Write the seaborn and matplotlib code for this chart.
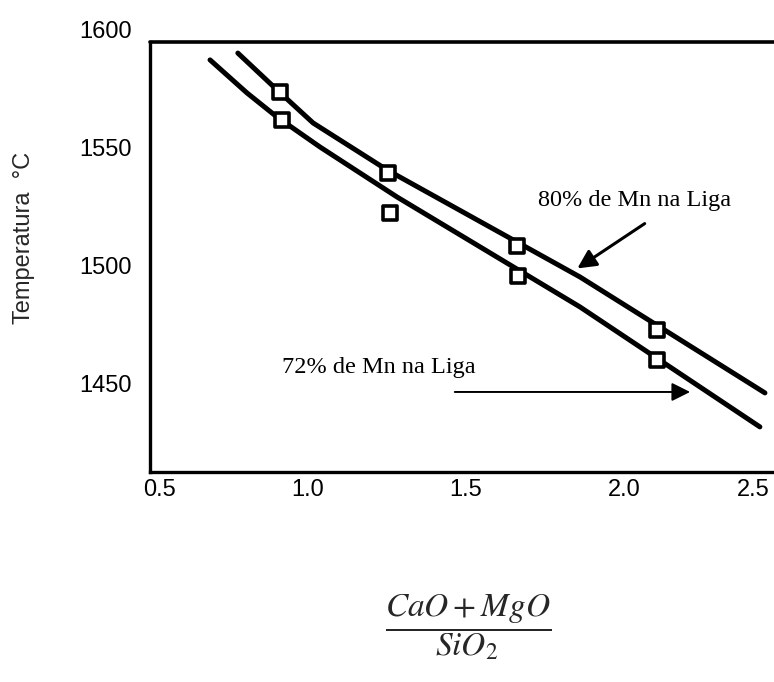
import matplotlib
matplotlib.use("Agg")
import matplotlib.pyplot as plt
from matplotlib.transforms import ScaledTranslation
import seaborn as sns
import pandas as pd

# ---- data ----
line80_x = [0.778, 0.902, 1.016, 1.250, 1.861, 2.446]
line80_y = [1589.8, 1574.2, 1560.2, 1540.3, 1494.9, 1445.8]
line72_x = [0.690, 0.807, 0.902, 1.038, 1.282, 1.861, 2.430]
line72_y = [1586.9, 1572.9, 1562.7, 1550.0, 1528.8, 1482.2, 1431.4]
pts80_x = [0.911, 1.253, 1.661, 2.104]
pts80_y = [1573.3, 1539.0, 1508.1, 1472.5]
pts72_x = [0.918, 1.259, 1.665, 2.104]
pts72_y = [1561.4, 1522.0, 1495.3, 1459.7]
xticks = [0.5, 1.0, 1.5, 2.0, 2.5]
xticklabels = ["0.5", "1.0", "1.5", "2.0", "2.5"]
yticks = [1450, 1500, 1550, 1600]
yticklabels = ["1450", "1500", "1550", "1600"]
label80 = "80% de Mn na Liga"
label72 = "72% de Mn na Liga"
ylabel = "Temperatura  °C"
xlabel = r"$\dfrac{CaO + MgO}{SiO_2}$"

sns.set_theme(style="white")
plt.rcParams["font.family"] = ["Liberation Sans", "DejaVu Sans"]
plt.rcParams["mathtext.fontset"] = "stix"

W, H = 774, 682
fig = plt.figure(figsize=(W / 100, H / 100), dpi=100)
ax = fig.add_axes([150 / W, 1 - 472 / H, 650 / W, 443 / H])

ymin = 1600 - (472 - 29) * 50 / 118
ytop_line = 1600 - (42 - 29) * 50 / 118
ax.set_xlim(0.5, 0.5 + 650 / 316)
ax.set_ylim(ymin, 1600)

df80 = pd.DataFrame({"x": line80_x, "y": line80_y})
df72 = pd.DataFrame({"x": line72_x, "y": line72_y})
sns.lineplot(data=df80, x="x", y="y", sort=False, color="black", lw=3.6, ax=ax)
sns.lineplot(data=df72, x="x", y="y", sort=False, color="black", lw=3.6, ax=ax)

p80 = pd.DataFrame({"x": pts80_x, "y": pts80_y})
p72 = pd.DataFrame({"x": pts72_x, "y": pts72_y})
for p in (p80, p72):
    sns.scatterplot(data=p, x="x", y="y", marker="s", s=110, facecolor="white",
                    edgecolor="black", linewidth=2.6, zorder=5, ax=ax)

# frame
for s in ("top", "right"):
    ax.spines[s].set_visible(False)
for s in ("left", "bottom"):
    ax.spines[s].set_color("black")
    ax.spines[s].set_linewidth(2.4)
ax.spines["left"].set_bounds(ymin, ytop_line)
ax.axhline(ytop_line, color="black", lw=2.6, zorder=6, clip_on=False)

ax.set_xticks(xticks)
ax.set_xticklabels(xticklabels, fontsize=17)
ax.set_yticks(yticks)
ax.set_yticklabels(yticklabels, fontsize=17)
ax.tick_params(axis="x", direction="in", length=8, width=1.6, pad=5, colors="black")
ax.tick_params(axis="y", length=0, pad=13, colors="black")
labs = ax.get_xticklabels()
labs[0].set_transform(labs[0].get_transform() + ScaledTranslation(0.10, 0, fig.dpi_scale_trans))
labs[-1].set_transform(labs[-1].get_transform() + ScaledTranslation(-0.29, 0, fig.dpi_scale_trans))
ax.set_xlabel("")
ax.set_ylabel("")

# annotations
ax.text(2.032, 1527.5, label80, fontsize=17.5, family=["Liberation Serif"],
        ha="center", va="center", color="black")
ax.text(1.2247, 1456.4, label72, fontsize=17.5, family=["Liberation Serif"],
        ha="center", va="center", color="black")
ax.annotate("", xy=(1.845, 1497.9), xytext=(2.0728, 1518.2),
            arrowprops=dict(arrowstyle="-|>", color="black", lw=2.2, mutation_scale=28))
ax.annotate("", xy=(2.218, 1446.2), xytext=(1.4557, 1446.2),
            arrowprops=dict(arrowstyle="-|>", color="black", lw=1.4, mutation_scale=28))

fig.text(24 / W, 1 - 238 / H, ylabel, rotation=90, fontsize=17, ha="center", va="center")
fig.text(468 / W, 1 - 627 / H, xlabel, fontsize=24, ha="center", va="center")

fig.savefig("out.png", dpi=100)
